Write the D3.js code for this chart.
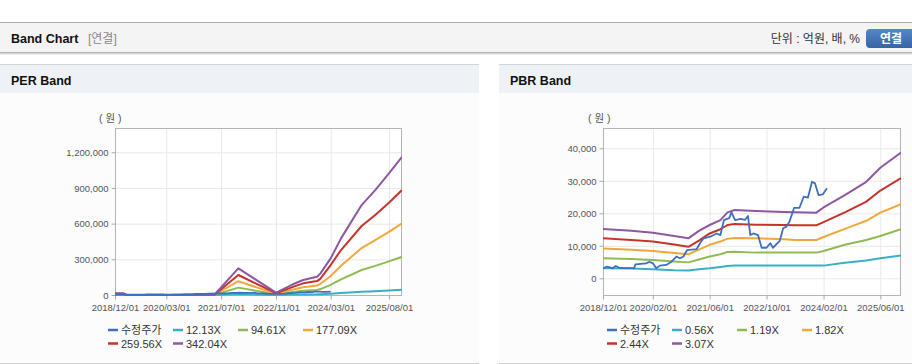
<!DOCTYPE html>
<html>
<head>
<meta charset="utf-8"/>
<script src="https://d3js.org/d3.v7.min.js"></script>
<style>
  body { margin: 0; background: #fff; }
  svg { display: block; font-family: "Liberation Sans", Arial, "Noto Sans CJK KR", sans-serif; }
  .tick text { fill: #555; font-size: 9.5px; }
  .axis path, .axis line { stroke: #aaa; }
  .grid line { stroke: #e8e8e8; }
  .grid path { display: none; }
  .legend text { fill: #333; font-size: 11px; }
</style>
</head>
<body>
<script>
// ---- data ----
// adjusted close (shared by both charts)
var priceDates = ["2018-12-01","2019-01-05","2019-02-20","2019-03-20","2019-04-15","2019-06-01","2019-08-25","2019-09-05",
  "2019-12-05","2020-01-03","2020-02-01","2020-03-01","2020-04-01","2020-05-25","2020-07-10","2020-08-20","2020-09-20",
  "2020-10-20","2020-11-20","2021-02-10","2021-03-10","2021-04-10","2021-06-05","2021-08-01","2021-09-01","2021-10-01",
  "2021-11-15","2021-12-05","2022-01-05","2022-02-20","2022-04-01","2022-04-25","2022-05-15","2022-06-10","2022-07-20",
  "2022-08-20","2022-10-01","2022-11-01","2022-11-25","2023-01-22","2023-02-20","2023-03-20","2023-04-15","2023-05-25",
  "2023-07-10","2023-08-15","2023-09-20","2023-10-25","2023-11-20","2023-12-20","2024-01-25","2024-03-01"];
var priceValues = [3080,3600,3100,3800,3300,3100,3100,4300,
  4600,5100,4600,3100,3900,4100,5100,6700,6150,
  6700,8700,9000,10800,12300,12800,13800,13300,17900,
  18500,20300,17900,18300,18000,19200,13300,13800,13300,
  9400,9400,10800,9400,11500,15400,15900,17400,21700,
  21700,25100,24800,29700,29200,25600,25800,27700];

// PER band
var perDates = ["2018-12-01","2019-02-15","2019-03-15","2021-05-01","2021-12-01","2022-11-01","2023-04-01","2023-07-01",
  "2023-11-01","2023-12-01","2024-03-01","2024-06-01","2024-12-01","2025-04-01","2025-08-01","2025-11-25"];
var per12 = [500,450,0,0,8000,700,3200,4500,5500,6500,11000,17000,27000,32000,38000,44000];
var per94 = [4200,3900,0,0,62000,5500,25000,35000,43000,50000,85000,132000,210000,245000,283000,321000];
var per177 = [7800,7300,0,0,116000,10000,47000,65000,80000,94000,160000,246000,395000,462000,530000,602000];
var per259 = [11400,10600,0,0,168000,15000,68000,98000,117000,138000,252000,378000,580000,672000,775000,882000];
var per342 = [15000,14000,0,0,224000,20000,90000,126000,154000,182000,308000,476000,756000,882000,1022000,1162000];
var perLabels = ["수정주가","12.13X","94.61X","177.09X","259.56X","342.04X"];
var perXTicks = ["2018-12-01","2020-03-01","2021-07-01","2022-11-01","2024-03-01","2025-08-01"];
var perYTicks = [0,300000,600000,900000,1200000];

// PBR band
var pbrDates = ["2018-12-01","2019-08-01","2020-02-01","2020-08-01","2020-12-01","2021-03-01","2021-06-01","2021-09-01",
  "2021-11-01","2022-01-01","2022-07-01","2023-03-01","2023-06-01","2023-12-01","2024-02-01","2024-08-01","2025-02-01",
  "2025-06-01","2025-11-25"];
var pbr056 = [3100,3000,2800,2500,2400,2800,3100,3500,3800,3900,3900,3900,3900,3900,3900,4800,5500,6150,7000];
var pbr119 = [6150,5900,5600,5200,4900,5800,6700,7400,8100,8200,7900,7900,7900,7900,8400,10300,11800,13000,15100];
var pbr182 = [9200,8800,8400,7800,7400,8800,10300,11300,12200,12400,12300,12000,11800,11800,12700,15200,17700,20200,22800];
var pbr244 = [12300,11800,11300,10400,9700,11600,13800,15100,16400,16700,16500,16400,16300,16300,17300,20300,23600,27000,30800];
var pbr307 = [15200,14600,14000,13000,12300,14600,16400,17900,20300,21000,20700,20400,20300,20200,21800,25600,29700,34000,38700];
var pbrLabels = ["수정주가","0.56X","1.19X","1.82X","2.44X","3.07X"];
var pbrXTicks = ["2018-12-01","2020-02-01","2021-06-01","2022-10-01","2024-02-01","2025-06-01"];
var pbrYTicks = [0,10000,20000,30000,40000];

var colors = ["#3c6fc3","#37b0c6","#8fbb53","#f2a73b","#c5342b","#8d58a1"];
var parse = d3.timeParse("%Y-%m-%d");

var svg = d3.select("body").append("svg").attr("width", 912).attr("height", 364);

// ---- page frame ----
svg.append("rect").attr("x", 0).attr("y", 22).attr("width", 912).attr("height", 31).attr("fill", "#f4f4f4");
svg.append("line").attr("x1", 0).attr("x2", 912).attr("y1", 22.5).attr("y2", 22.5).attr("stroke", "#aaa");
[["#b5b5b5", 52.5], ["#d6d6d6", 53.5], ["#ececec", 54.5]].forEach(function(s) {
  svg.append("line").attr("x1", 0).attr("x2", 912).attr("y1", s[1]).attr("y2", s[1]).attr("stroke", s[0]);
});
svg.append("text").attr("x", 11).attr("y", 43).attr("font-size", 12.5).attr("font-weight", "bold").attr("fill", "#111").text("Band Chart");
svg.append("text").attr("x", 88).attr("y", 43).attr("font-size", 12).attr("fill", "#888").text("[연결]");
svg.append("text").attr("x", 860).attr("y", 43).attr("font-size", 12).attr("fill", "#333")
  .attr("text-anchor", "end").text("단위 : 억원, 배, %");

var grad = svg.append("defs").append("linearGradient").attr("id", "btn").attr("x1", 0).attr("x2", 0).attr("y1", 0).attr("y2", 1);
grad.append("stop").attr("offset", "0%").attr("stop-color", "#5687c6");
grad.append("stop").attr("offset", "100%").attr("stop-color", "#3764a6");
svg.append("rect").attr("x", 866).attr("y", 29).attr("width", 52).attr("height", 19).attr("rx", 4).attr("fill", "url(#btn)");
svg.append("text").attr("x", 891).attr("y", 43).attr("font-size", 12).attr("font-weight", "bold")
  .attr("fill", "#fff").attr("text-anchor", "middle").text("연결");

function panel(x, w, title) {
  svg.append("rect").attr("x", x).attr("y", 65).attr("width", w).attr("height", 28).attr("fill", "#eef2f7");
  svg.append("rect").attr("x", x).attr("y", 93).attr("width", w).attr("height", 270).attr("fill", "#fcfcfc");
  svg.append("line").attr("x1", x).attr("x2", x + w).attr("y1", 64.5).attr("y2", 64.5).attr("stroke", "#d4d4d4");
  svg.append("line").attr("x1", x).attr("x2", x + w).attr("y1", 363.5).attr("y2", 363.5).attr("stroke", "#d0d0d0");
  svg.append("text").attr("x", x + 11).attr("y", 85).attr("font-size", 12.5).attr("font-weight", "bold")
    .attr("fill", "#111").text(title);
}
panel(0, 479, "PER Band");
panel(499, 413, "PBR Band");

// ---- chart ----
function drawBand(c) {
  var g = svg.append("g");
  var x = d3.scaleTime().domain([parse("2018-12-01"), parse("2025-11-25")]).range([c.left, c.right]);
  var y = d3.scaleLinear().domain(c.yDomain).range([c.bottom, c.top]);
  var xt = c.xTicks.map(parse);

  g.append("rect").attr("x", c.left).attr("y", c.top).attr("width", c.right - c.left)
    .attr("height", c.bottom - c.top).attr("fill", "#fff");

  g.append("g").attr("class", "grid").attr("transform", "translate(0," + c.bottom + ")")
    .call(d3.axisBottom(x).tickValues(xt).tickSize(c.top - c.bottom).tickFormat(""));
  g.append("g").attr("class", "grid").attr("transform", "translate(" + c.left + ",0)")
    .call(d3.axisLeft(y).tickValues(c.yTicks).tickSize(c.left - c.right).tickFormat(""));

  g.append("rect").attr("x", c.left + .5).attr("y", c.top + .5).attr("width", c.right - c.left - 1)
    .attr("height", c.bottom - c.top).attr("fill", "none").attr("stroke", "#b4b4b4");

  g.append("g").attr("class", "axis").attr("transform", "translate(0," + (c.bottom + .5) + ")")
    .call(d3.axisBottom(x).tickValues(xt).tickSize(4).tickPadding(4.5).tickFormat(d3.timeFormat("%Y/%m/%d")))
    .call(function(a) { a.select(".domain").remove(); });
  g.append("g").attr("class", "axis").attr("transform", "translate(" + (c.left + .5) + ",0)")
    .call(d3.axisLeft(y).tickValues(c.yTicks).tickSize(4).tickPadding(3).tickFormat(d3.format(",")))
    .call(function(a) { a.select(".domain").remove(); a.selectAll("text").attr("dy", "0.34em"); });

  g.append("text").attr("x", c.unitX).attr("y", 122).attr("font-size", 10.5).attr("fill", "#555").text("( 원 )");

  var clipId = "clip" + c.left;
  svg.append("clipPath").attr("id", clipId).append("rect").attr("x", c.left).attr("y", c.top)
    .attr("width", c.right - c.left).attr("height", c.bottom - c.top + 1);

  var line = d3.line().x(function(d) { return x(d[0]); }).y(function(d) { return y(d[1]); });
  var lines = g.append("g").attr("clip-path", "url(#" + clipId + ")").attr("fill", "none")
    .attr("stroke-linejoin", "round");
  var dates = c.dates.map(parse);
  c.bands.forEach(function(vals, i) {
    lines.append("path").datum(dates.map(function(d, k) { return [d, vals[k]]; }))
      .attr("d", line).attr("stroke", colors[i + 1]).attr("stroke-width", 2);
  });
  var pd = priceDates.map(parse);
  lines.append("path").datum(pd.map(function(d, k) { return [d, priceValues[k]]; }))
    .attr("d", line).attr("stroke", colors[0]).attr("stroke-width", 1.8);

  // legend
  var lg = g.append("g").attr("class", "legend");
  c.labels.forEach(function(lab, i) {
    var lx = c.legendX + (i % 4) * 65, ly = i < 4 ? 330 : 343.5;
    lg.append("line").attr("x1", lx).attr("x2", lx + 10).attr("y1", ly).attr("y2", ly)
      .attr("stroke", colors[i]).attr("stroke-width", 2.5);
    lg.append("text").attr("x", lx + 13).attr("y", ly + 4).text(lab);
  });
}

drawBand({
  left: 115, right: 402, top: 128, bottom: 295, yDomain: [0, 1404000], yTicks: perYTicks,
  xTicks: perXTicks, dates: perDates, bands: [per12, per94, per177, per259, per342],
  labels: perLabels, legendX: 108, unitX: 99
});
drawBand({
  left: 603, right: 901, top: 128, bottom: 295, yDomain: [-5140, 46250], yTicks: pbrYTicks,
  xTicks: pbrXTicks, dates: pbrDates, bands: [pbr056, pbr119, pbr182, pbr244, pbr307],
  labels: pbrLabels, legendX: 607, unitX: 588
});
</script>
</body>
</html>
